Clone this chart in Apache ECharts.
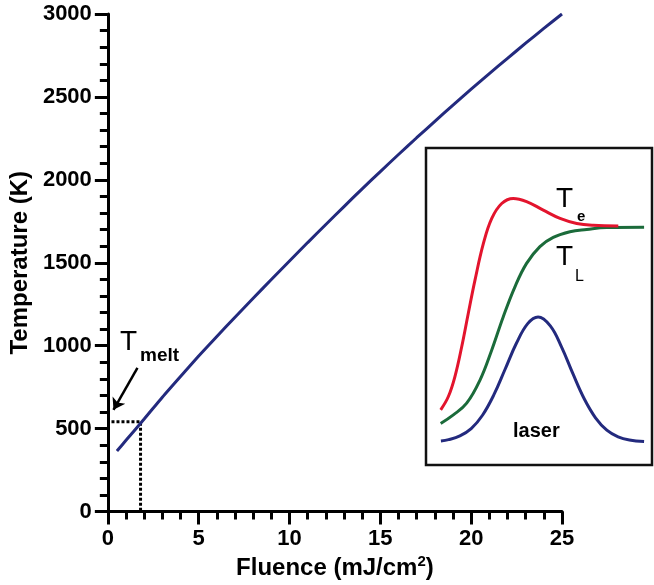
<!DOCTYPE html>
<html>
<head>
<meta charset="utf-8">
<script src="https://cdn.jsdelivr.net/npm/echarts@6/dist/echarts.min.js"></script>
<style>html,body{margin:0;padding:0;background:#fff}#c{width:654px;height:585px}</style>
</head>
<body>
<div id="c"></div>
<script>
// Main curve: temperature vs fluence
var fluence = [0.5, 1, 2, 3, 4, 5, 6, 7, 8, 9, 10, 11, 12, 13, 14, 15, 16, 17, 18, 19, 20, 21, 22, 23, 24, 25];
var temperature = [365, 430, 558, 690, 815, 938, 1056, 1172, 1286, 1399, 1511, 1622, 1731, 1839, 1946, 2050, 2153, 2254, 2353, 2451, 2547, 2641, 2733, 2824, 2913, 3000];
// Melting point marker
var tMeltFluence = 1.8;
var tMeltTemp = 541;
// Arrow pointing at T_melt (data coords)
var arrowFrom = [1.63, 867];
var arrowTo = [0.31, 614];
// Inset curves (arbitrary units 0..100)
var teX = [6.5, 9.9, 12.8, 15.8, 18.7, 21.7, 25.4, 29.1, 33.5, 38.6, 44.5, 51.9, 59.3, 66.7, 74.0, 85.1];
var teY = [17.4, 21.6, 27.9, 37.3, 47.8, 58.4, 69.9, 77.8, 82.5, 84.1, 83.1, 80.4, 77.8, 76.2, 75.6, 75.4];
var tlX = [6.5, 12.1, 18.0, 23.9, 29.1, 34.2, 39.4, 44.5, 50.4, 56.3, 63.7, 71.1, 79.9, 96.5];
var tlY = [13.1, 15.8, 19.5, 26.8, 36.3, 46.8, 56.3, 63.6, 68.9, 71.8, 73.6, 74.3, 74.9, 75.0];
var laserX = [6.6, 10, 15, 20, 25, 30, 35, 40, 45, 49.6, 55, 60, 65, 70, 75, 80, 85, 90, 96.5];
var laserY = [7.6, 8.0, 9.2, 11.5, 15.7, 22.1, 30.2, 38.4, 44.6, 46.7, 43.9, 37.2, 28.8, 20.9, 14.9, 11.0, 8.9, 7.9, 7.4];

function zip(a, b) { return a.map(function (v, i) { return [v, b[i]]; }); }

var FONT = 'Liberation Sans';
var chart = echarts.init(document.getElementById('c'), null, {renderer: 'canvas'});
var axisLineStyle = {color: '#000', width: 3};
chart.setOption({
  animation: false,
  textStyle: {fontFamily: FONT},
  grid: [
    {left: 107, right: 92, top: 14, bottom: 73, show: false},
    {left: 426, top: 148, width: 226, height: 317, show: true, borderColor: '#111', borderWidth: 2.5, backgroundColor: 'transparent'}
  ],
  xAxis: [
    {
      type: 'value', gridIndex: 0, min: 0, max: 25, interval: 5,
      name: 'Fluence (mJ/cm{sup|2})', nameLocation: 'middle', nameGap: 40,
      nameTextStyle: {fontSize: 24, fontWeight: 'bold', color: '#000', fontFamily: FONT,
        rich: {sup: {fontSize: 15, fontWeight: 'bold', verticalAlign: 'top', padding: [0, 0, 12, 0], fontFamily: FONT}}},
      axisLine: {lineStyle: axisLineStyle},
      axisTick: {inside: false, length: 13, lineStyle: {color: '#000', width: 3}},
      minorTick: {show: true, splitNumber: 5, length: 8, lineStyle: {color: '#000', width: 3}},
      axisLabel: {fontSize: 22, fontWeight: 'bold', color: '#000', margin: 16, fontFamily: FONT,
        formatter: function (v) { return String(v); }},
      splitLine: {show: false}
    },
    {type: 'value', gridIndex: 1, min: 0, max: 100, show: false}
  ],
  yAxis: [
    {
      type: 'value', gridIndex: 0, min: 0, max: 3000, interval: 500,
      name: 'Temperature (K)', nameLocation: 'middle', nameGap: 66,
      nameTextStyle: {fontSize: 24, fontWeight: 'bold', color: '#000', fontFamily: FONT},
      axisLine: {show: true, lineStyle: axisLineStyle},
      axisTick: {show: true, inside: false, length: 13, lineStyle: {color: '#000', width: 3}},
      minorTick: {show: true, splitNumber: 5, length: 8, lineStyle: {color: '#000', width: 3}},
      axisLabel: {fontSize: 22, fontWeight: 'bold', color: '#000', margin: 16, fontFamily: FONT,
        formatter: function (v) { return String(v); }},
      splitLine: {show: false}
    },
    {type: 'value', gridIndex: 1, min: 0, max: 100, show: false}
  ],
  series: [
    {
      type: 'line', xAxisIndex: 0, yAxisIndex: 0, symbol: 'none',
      data: [[0.2, tMeltTemp], [tMeltFluence, tMeltTemp], [tMeltFluence, 0]],
      lineStyle: {color: '#000', width: 3, type: [3, 2]}, z: 2
    },
    {
      type: 'line', xAxisIndex: 0, yAxisIndex: 0, symbol: 'none', smooth: 0.2,
      data: zip(fluence, temperature),
      lineStyle: {color: '#232a7e', width: 3}, z: 3
    },
    {
      type: 'lines', coordinateSystem: 'cartesian2d', xAxisIndex: 0, yAxisIndex: 0,
      symbol: ['none', 'arrow'], symbolSize: 11,
      lineStyle: {color: '#000', width: 2.5, opacity: 1},
      data: [{coords: [arrowFrom, arrowTo]}], z: 4
    },
    {
      type: 'line', xAxisIndex: 1, yAxisIndex: 1, symbol: 'none', smooth: 0.4,
      data: zip(laserX, laserY), lineStyle: {color: '#232a7e', width: 3}
    },
    {
      type: 'line', xAxisIndex: 1, yAxisIndex: 1, symbol: 'none', smooth: 0.4,
      data: zip(tlX, tlY), lineStyle: {color: '#1b6b3a', width: 3}
    },
    {
      type: 'line', xAxisIndex: 1, yAxisIndex: 1, symbol: 'none', smooth: 0.4,
      data: zip(teX, teY), lineStyle: {color: '#e3142d', width: 3}
    }
  ],
  graphic: [
    {type: 'text', left: 120, top: 328, style: {text: 'T', fontSize: 28, fontFamily: FONT, fill: '#000'}},
    {type: 'text', left: 140, top: 346, style: {text: 'melt', fontSize: 19, fontWeight: 'bold', fontFamily: FONT, fill: '#000'}},
    {type: 'text', left: 556, top: 185, style: {text: 'T', fontSize: 28, fontFamily: FONT, fill: '#000'}},
    {type: 'text', left: 577, top: 209, style: {text: 'e', fontSize: 15, fontWeight: 'bold', fontFamily: FONT, fill: '#000'}},
    {type: 'text', left: 556, top: 243, style: {text: 'T', fontSize: 28, fontFamily: FONT, fill: '#000'}},
    {type: 'text', left: 575, top: 269, style: {text: 'L', fontSize: 16, fontFamily: FONT, fill: '#000'}},
    {type: 'text', left: 513, top: 421, style: {text: 'laser', fontSize: 20, fontWeight: 'bold', fontFamily: FONT, fill: '#000'}}
  ]
});
</script>
</body>
</html>
